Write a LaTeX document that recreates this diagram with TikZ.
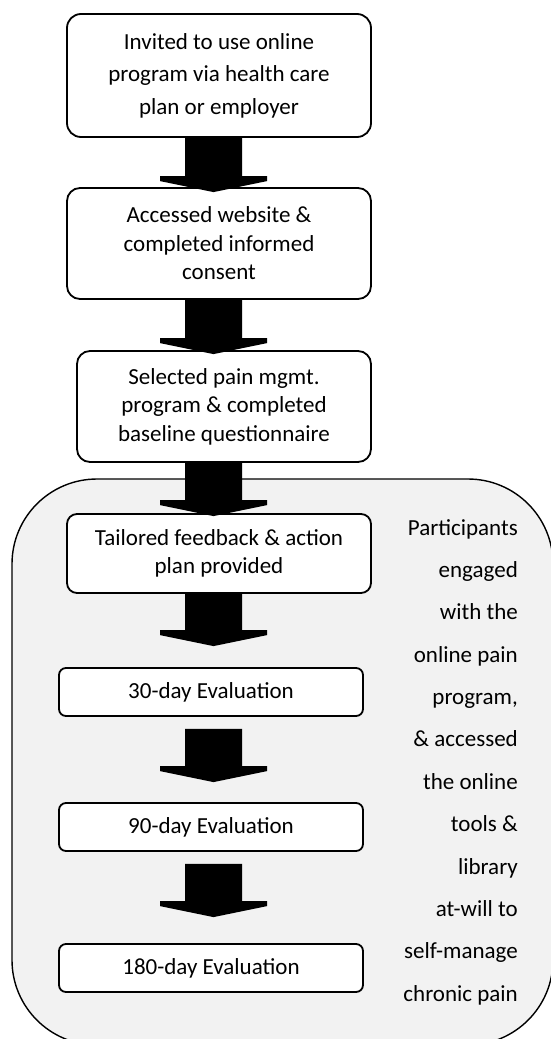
\documentclass[tikz,border=0pt]{standalone}
\usepackage{fontspec}
\setmainfont{Carlito}
\usetikzlibrary{calc}
\definecolor{panelgray}{RGB}{242,242,242}

\newcommand{\blockarrow}[4]{%
  \fill let \p3=(spine), \p1=($(#1)+(0,#2)$), \p2=($(#3)+(0,#4)$) in
    (\x3-28.5pt,\y1) -- (\x3-28.5pt,\y2+16pt) -- (\x3-53.5pt,\y2+16pt)
    -- (\x3-53.5pt,\y2+11pt) -- (\x3,\y2) -- (\x3+53.5pt,\y2+11pt)
    -- (\x3+53.5pt,\y2+16pt) -- (\x3+28.5pt,\y2+16pt) -- (\x3+28.5pt,\y1) -- cycle;}

\tikzset{
  stepbox/.style={draw, line width=1.8pt, fill=white, align=center, inner sep=0pt,
    font=\fontsize{23}{28.5}\selectfont},
  evalbox/.style={stepbox, minimum width=304pt, minimum height=48pt, rounded corners=7pt},
}

\begin{document}
\begin{tikzpicture}[x=1pt,y=-1pt]
\useasboundingbox (0,0) rectangle (550,1039);
\coordinate (spine) at (213.5,0);
\node[draw, line width=1.4pt, fill=panelgray, rounded corners=85pt,
  minimum width=541pt, minimum height=566pt] (phase) at (282.5,762) {};

\node[stepbox, minimum width=304pt, minimum height=123pt, rounded corners=14pt,
  font=\fontsize{23}{32.5}\selectfont] (invite) at (219,75.5)
  {Invited to use online\\program via health care\\plan or employer};
\node[stepbox, minimum width=304pt, minimum height=111pt, rounded corners=13pt] (access) at (219,243.5)
  {Accessed website \&\\completed informed\\consent};
\node[stepbox, minimum width=294pt, minimum height=111pt, rounded corners=13pt] (select) at (224,406.5)
  {Selected pain mgmt.\\program \& completed\\baseline questionnaire};
\node[stepbox, minimum width=304pt, minimum height=79pt, rounded corners=10pt] (tailor) at (219,553.5)
  {Tailored feedback \& action\\plan provided};
\node[evalbox] (eval30) at (211,692) {30-day Evaluation};
\node[evalbox] (eval90) at (211,827) {90-day Evaluation};
\node[evalbox] (eval180) at (211,968) {180-day Evaluation};

\node[align=right, inner sep=0pt, anchor=east, font=\fontsize{23}{42.36}\selectfont] (note) at (518,762)
  {Participants\\engaged\\with the\\online pain\\program,\\\& accessed\\the online\\tools \&\\library\\at-will to\\self-manage\\chronic pain};

\blockarrow{invite.south}{0}{access.north}{5}
\blockarrow{access.south}{0}{select.north}{4}
\blockarrow{select.south}{0}{tailor.north}{3}
\blockarrow{tailor.south}{0}{eval30.north}{-21}
\blockarrow{eval30.south}{12}{eval90.north}{-20}
\blockarrow{eval90.south}{12}{eval180.north}{-26}
\end{tikzpicture}
\end{document}
